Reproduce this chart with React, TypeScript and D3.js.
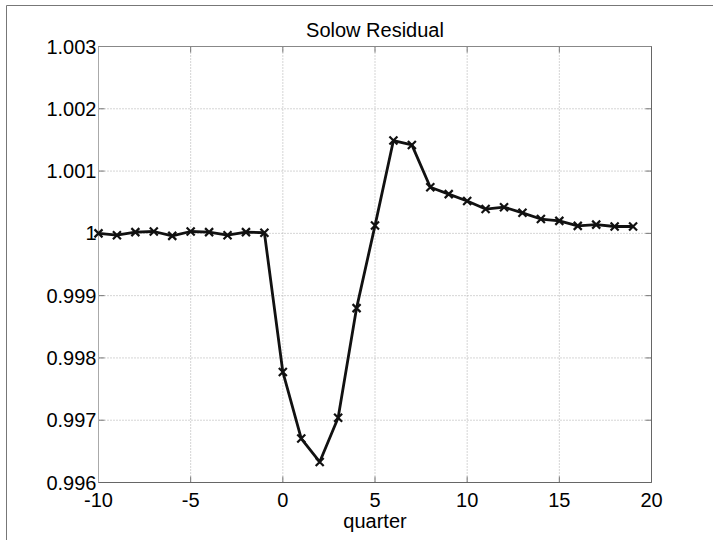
import React from "react";
import * as d3 from "d3";

const quarters = [-10,-9,-8,-7,-6,-5,-4,-3,-2,-1,0,1,2,3,4,5,6,7,8,9,10,11,12,13,14,15,16,17,18,19];
const residual = [
  1.0, 0.99997, 1.00002, 1.00003, 0.99996, 1.00003, 1.00002, 0.99997, 1.00002, 1.00001,
  0.997775, 0.996706, 0.99633, 0.99704, 0.99880, 1.000125, 1.00149, 1.00142, 1.00074, 1.00063,
  1.00052, 1.00039, 1.00042, 1.00033, 1.00023, 1.00020, 1.00012, 1.00014, 1.00011, 1.00011,
];
const xTicks = [-10, -5, 0, 5, 10, 15, 20];
const yTicks = [0.996, 0.997, 0.998, 0.999, 1.0, 1.001, 1.002, 1.003];
const yTickLabels = ["0.996", "0.997", "0.998", "0.999", "1", "1.001", "1.002", "1.003"];
const title = "Solow Residual";
const xLabel = "quarter";

const W = 713, H = 540;
const L = 98.5, R = 651.5, T = 46.5, B = 482.5;

export default function App() {
  const x = d3.scaleLinear().domain([-10, 20]).range([L, R]);
  const y = d3.scaleLinear().domain([0.996, 1.003]).range([B, T]);
  const line = d3.line<number>().x((_, i) => x(quarters[i])).y((d) => y(d));
  const font = "'Liberation Sans', Arial, sans-serif";
  const ms = 4;
  return (
    <svg width={W} height={H} style={{ position: "absolute", left: 0, top: 0, background: "#fff" }}>
      <line x1={6.5} y1={5.5} x2={W} y2={5.5} stroke="#777" />
      <line x1={6.5} y1={5.5} x2={6.5} y2={H} stroke="#777" />
      {xTicks.slice(1, -1).map((t) => (
        <line key={"gx" + t} x1={x(t)} x2={x(t)} y1={T} y2={B} stroke="#aaa" strokeDasharray="1,2" />
      ))}
      {yTicks.slice(1, -1).map((t) => (
        <line key={"gy" + t} x1={L} x2={R} y1={y(t)} y2={y(t)} stroke="#aaa" strokeDasharray="1,2" />
      ))}
      {xTicks.map((t) => (
        <g key={"tx" + t}>
          <line x1={x(t)} x2={x(t)} y1={B} y2={B - 6} stroke="#777" />
          <line x1={x(t)} x2={x(t)} y1={T} y2={T + 6} stroke="#777" />
          <text x={x(t)} y={B + 24} textAnchor="middle" fontFamily={font} fontSize={20} fill="#000">{t}</text>
        </g>
      ))}
      {yTicks.map((t, i) => (
        <g key={"ty" + t}>
          <line x1={L} x2={L + 6} y1={y(t)} y2={y(t)} stroke="#777" />
          <line x1={R} x2={R - 6} y1={y(t)} y2={y(t)} stroke="#777" />
          <text x={L - 2} y={y(t) + 7} textAnchor="end" fontFamily={font} fontSize={20} fill="#000">{yTickLabels[i]}</text>
        </g>
      ))}
      <line x1={L} x2={L} y1={T} y2={B} stroke="#aaa" />
      <line x1={L} x2={R} y1={T} y2={T} stroke="#888" />
      <line x1={L} x2={R} y1={B} y2={B} stroke="#666" />
      <line x1={R} x2={R} y1={T} y2={B} stroke="#666" />
      <path d={line(residual) || ""} fill="none" stroke="#111" strokeWidth={2.8} strokeLinejoin="round" />
      {residual.map((v, i) => (
        <path key={"m" + i}
          d={`M${x(quarters[i]) - ms},${y(v) - ms}L${x(quarters[i]) + ms},${y(v) + ms}M${x(quarters[i]) - ms},${y(v) + ms}L${x(quarters[i]) + ms},${y(v) - ms}`}
          stroke="#111" strokeWidth={2.2} fill="none" />
      ))}
      <text x={(L + R) / 2} y={37} textAnchor="middle" fontFamily={font} fontSize={20} fill="#000">{title}</text>
      <text x={(L + R) / 2} y={528} textAnchor="middle" fontFamily={font} fontSize={20} fill="#000">{xLabel}</text>
    </svg>
  );
}
